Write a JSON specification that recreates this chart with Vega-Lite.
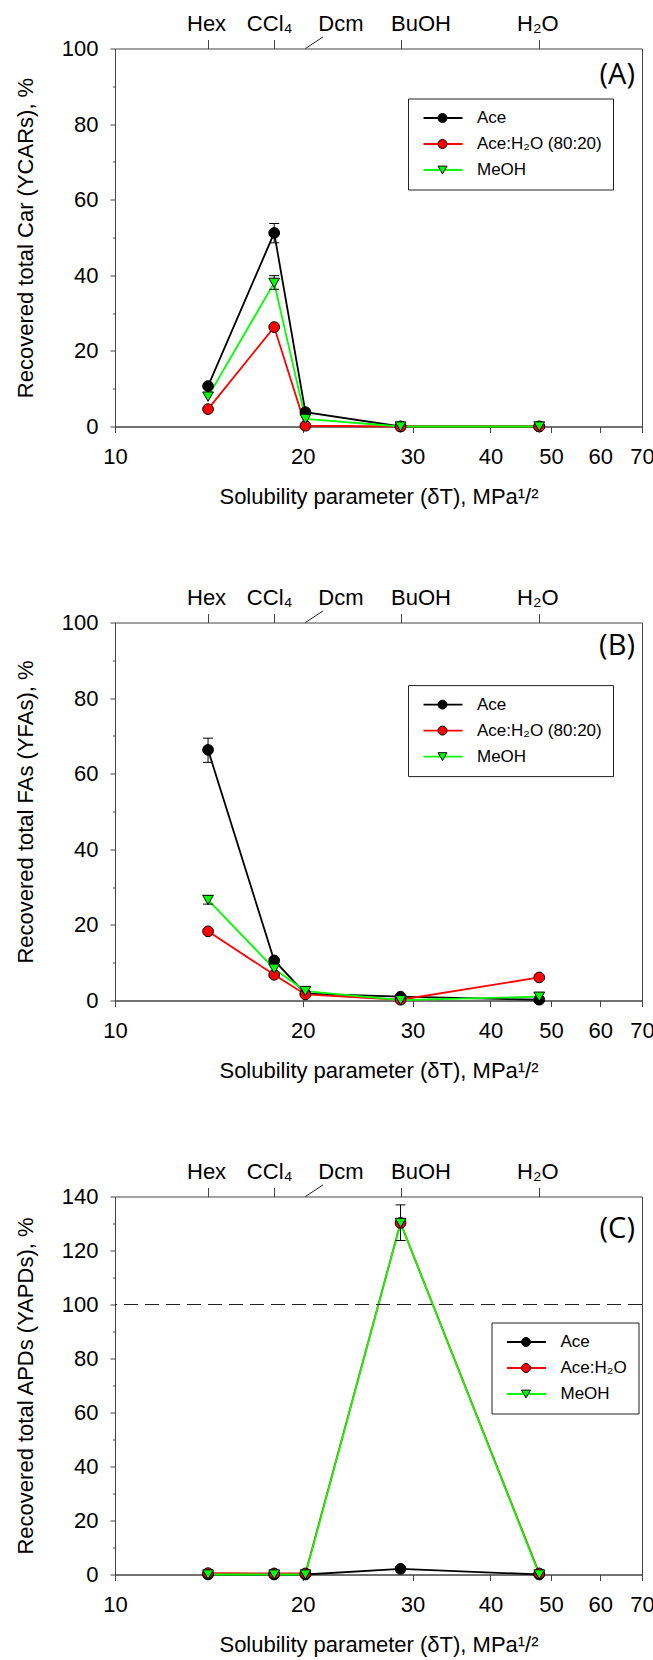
{
  "$schema": "https://vega.github.io/schema/vega-lite/v6.json",
  "padding": {"left": 13, "top": 11.5, "right": 0, "bottom": 0},
  "spacing": 77,
  "background": "white",
  "config": {
    "font": "Liberation Sans",
    "view": {"stroke": "#444", "strokeWidth": 1},
    "axis": {"domainColor": "#444", "tickColor": "#444", "labelColor": "black", "titleColor": "black", "grid": false, "labelFontWeight": "normal", "titleFontWeight": "normal", "labelFont": "Liberation Sans", "titleFont": "Liberation Sans", "labelFontSize": 22, "titleFontSize": 22},
    "legend": {"labelFont": "Liberation Sans", "labelFontSize": 17, "labelColor": "black"}
  },
  "datasets": {
    "A": [
      {"s": "Ace", "d": 14.1, "v": 10.7}, {"s": "Ace", "d": 18.0, "v": 51.2}, {"s": "Ace", "d": 20.2, "v": 3.8}, {"s": "Ace", "d": 28.7, "v": 0.0}, {"s": "Ace", "d": 47.9, "v": 0.0},
      {"s": "Ace:H₂O (80:20)", "d": 14.1, "v": 4.6}, {"s": "Ace:H₂O (80:20)", "d": 18.0, "v": 26.3}, {"s": "Ace:H₂O (80:20)", "d": 20.2, "v": 0.2}, {"s": "Ace:H₂O (80:20)", "d": 28.7, "v": 0.0}, {"s": "Ace:H₂O (80:20)", "d": 47.9, "v": 0.0},
      {"s": "MeOH", "d": 14.1, "v": 7.9}, {"s": "MeOH", "d": 18.0, "v": 38.0}, {"s": "MeOH", "d": 20.2, "v": 2.0}, {"s": "MeOH", "d": 28.7, "v": 0.0}, {"s": "MeOH", "d": 47.9, "v": 0.0}
    ],
    "Aerr": [
      {"s": "Ace", "d": 18.0, "lo": 48.6, "hi": 53.7},
      {"s": "MeOH", "d": 18.0, "lo": 36.3, "hi": 39.9}
    ],
    "B": [
      {"s": "Ace", "d": 14.1, "v": 66.3}, {"s": "Ace", "d": 18.0, "v": 10.6}, {"s": "Ace", "d": 20.2, "v": 1.8}, {"s": "Ace", "d": 28.7, "v": 1.0}, {"s": "Ace", "d": 47.9, "v": 0.2},
      {"s": "Ace:H₂O (80:20)", "d": 14.1, "v": 18.3}, {"s": "Ace:H₂O (80:20)", "d": 18.0, "v": 6.8}, {"s": "Ace:H₂O (80:20)", "d": 20.2, "v": 1.6}, {"s": "Ace:H₂O (80:20)", "d": 28.7, "v": 0.2}, {"s": "Ace:H₂O (80:20)", "d": 47.9, "v": 6.1},
      {"s": "MeOH", "d": 14.1, "v": 26.6}, {"s": "MeOH", "d": 18.0, "v": 8.4}, {"s": "MeOH", "d": 20.2, "v": 2.5}, {"s": "MeOH", "d": 28.7, "v": 0.1}, {"s": "MeOH", "d": 47.9, "v": 1.0}
    ],
    "Berr": [
      {"s": "Ace", "d": 14.1, "lo": 63.0, "hi": 69.4},
      {"s": "MeOH", "d": 14.1, "lo": 25.5, "hi": 27.7}
    ],
    "C": [
      {"s": "Ace", "d": 14.1, "v": 0.0}, {"s": "Ace", "d": 18.0, "v": 0.0}, {"s": "Ace", "d": 20.2, "v": 0.0}, {"s": "Ace", "d": 28.7, "v": 2.1}, {"s": "Ace", "d": 47.9, "v": 0.0},
      {"s": "Ace:H₂O", "d": 14.1, "v": 0.5}, {"s": "Ace:H₂O", "d": 18.0, "v": 0.4}, {"s": "Ace:H₂O", "d": 20.2, "v": 0.4}, {"s": "Ace:H₂O", "d": 28.7, "v": 130.2}, {"s": "Ace:H₂O", "d": 47.9, "v": 0.4},
      {"s": "MeOH", "d": 14.1, "v": 0.0}, {"s": "MeOH", "d": 18.0, "v": 0.0}, {"s": "MeOH", "d": 20.2, "v": 0.0}, {"s": "MeOH", "d": 28.7, "v": 130.2}, {"s": "MeOH", "d": 47.9, "v": 0.0}
    ],
    "Cerr": [
      {"s": "MeOH", "d": 28.7, "lo": 123.7, "hi": 136.9}
    ]
  },
  "resolve": {
    "scale": {"stroke": "independent", "fill": "independent", "shape": "independent"},
    "legend": {"stroke": "independent", "fill": "independent", "shape": "independent"}
  },
  "vconcat": [
    {
      "width": 527, "height": 378,
      "resolve": {"axis": {"x": "independent", "y": "independent"}},
      "layer": [
        {
          "data": {"name": "A"},
          "mark": {"type": "line", "strokeWidth": 1.8},
          "encoding": {
            "x": {"field": "d", "type": "quantitative", "scale": {"type": "log", "domain": [10, 70], "nice": false},
              "axis": {"orient": "bottom", "values": [10, 20, 30, 40, 50, 60, 70], "format": "d", "tickSize": 6, "labelPadding": 14, "labelFlush": false, "labelOverlap": false, "labelBound": false, "title": "Solubility parameter (δT), MPa¹/²", "titlePadding": 19}},
            "y": {"field": "v", "type": "quantitative", "scale": {"domain": [0, 100], "nice": false},
              "axis": {"orient": "left", "values": [0, 10, 20, 30, 40, 50, 60, 70, 80, 90, 100], "labelExpr": "datum.value % 20 == 0 ? datum.label : ''", "tickSize": 5, "tickDash": {"condition": {"test": "datum.value % 20 != 0", "value": [2.5, 10]}, "value": [10, 0]}, "labelPadding": 12, "labelOverlap": false, "labelFlush": false, "title": "Recovered total Car (YCARs), %", "titlePadding": 24}},
            "stroke": {"field": "s", "type": "nominal", "scale": {"range": ["#000000", "#FF0000", "#00FF00"]},
              "legend": {"orient": "none", "legendX": 293, "legendY": 50, "title": null, "symbolType": "M-1,0H8.75", "symbolSize": 64, "symbolStrokeWidth": 1.8, "padding": 11, "strokeColor": "#222", "rowPadding": 8, "labelOffset": 41}}
          }
        },
        {
          "data": {"name": "Aerr"},
          "mark": {"type": "rule", "color": "black", "strokeWidth": 1},
          "encoding": {
            "x": {"field": "d", "type": "quantitative", "axis": null},
            "y": {"field": "lo", "type": "quantitative", "axis": null},
            "y2": {"field": "hi"}
          }
        },
        {
          "data": {"name": "Aerr"},
          "mark": {"type": "tick", "orient": "horizontal", "color": "black", "size": 10, "thickness": 1, "opacity": 1},
          "encoding": {
            "x": {"field": "d", "type": "quantitative", "axis": null},
            "y": {"field": "lo", "type": "quantitative", "axis": null}
          }
        },
        {
          "data": {"name": "Aerr"},
          "mark": {"type": "tick", "orient": "horizontal", "color": "black", "size": 10, "thickness": 1, "opacity": 1},
          "encoding": {
            "x": {"field": "d", "type": "quantitative", "axis": null},
            "y": {"field": "hi", "type": "quantitative", "axis": null}
          }
        },
        {
          "data": {"name": "A"},
          "mark": {"type": "point", "filled": true, "stroke": "black", "strokeWidth": 1, "opacity": 1, "size": 115},
          "encoding": {
            "x": {"field": "d", "type": "quantitative", "axis": null},
            "y": {"field": "v", "type": "quantitative", "axis": null},
            "fill": {"field": "s", "type": "nominal", "scale": {"domain": ["Ace", "Ace:H₂O (80:20)", "MeOH"], "range": ["#000000", "#FF0000", "#00FF00"]},
              "legend": {"orient": "none", "legendX": 308, "legendY": 50, "title": null, "symbolSize": 80, "symbolStrokeColor": "black", "symbolStrokeWidth": 1, "symbolOpacity": 1, "labelExpr": "''", "labelOpacity": 0, "padding": 11, "rowPadding": 8, "labelOffset": 10}},
            "shape": {"field": "s", "type": "nominal", "scale": {"domain": ["Ace", "Ace:H₂O (80:20)", "MeOH"], "range": ["circle", "circle", "triangle-down"]}}
          }
        },
        {
          "data": {"values": [{}]},
          "mark": {"type": "rule", "color": "#222", "strokeWidth": 1, "clip": false},
          "encoding": {
            "x": {"datum": 20.2, "type": "quantitative",
              "axis": {"orient": "top", "values": [14.1, 18.0, 20.2, 28.7, 47.9], "labelExpr": "datum.value < 16 ? 'Hex' : datum.value < 19 ? 'CCl₄' : datum.value < 24 ? 'Dcm' : datum.value < 35 ? 'BuOH' : 'H₂O'", "tickSize": 9, "tickColor": {"condition": {"test": "datum.value > 19 && datum.value < 24", "value": "transparent"}, "value": "#444"}, "labelOffset": {"condition": [{"test": "datum.value > 19 && datum.value < 24", "value": 35}, {"test": "datum.value > 24 && datum.value < 35", "value": 20}, {"test": "datum.value > 16 && datum.value < 19", "value": -5}], "value": -2}, "labelPadding": 4, "labelFlush": false, "labelOverlap": false, "labelBound": false, "domain": false, "title": null}},
            "x2": {"datum": 21.56},
            "y": {"datum": 100, "type": "quantitative", "axis": null},
            "y2": {"datum": 103.07}
          }
        },
        {
          "data": {"values": [{}]},
          "mark": {"type": "text", "text": "(A)", "font": "Open Sans", "fontSize": 29, "align": "right", "baseline": "middle", "color": "black"},
          "encoding": {
            "x": {"datum": 68.2, "type": "quantitative", "axis": null},
            "y": {"datum": 93, "type": "quantitative", "axis": null}
          }
        }
      ]
    },
    {
      "width": 527, "height": 378,
      "resolve": {"axis": {"x": "independent", "y": "independent"}},
      "layer": [
        {
          "data": {"name": "B"},
          "mark": {"type": "line", "strokeWidth": 1.8},
          "encoding": {
            "x": {"field": "d", "type": "quantitative", "scale": {"type": "log", "domain": [10, 70], "nice": false},
              "axis": {"orient": "bottom", "values": [10, 20, 30, 40, 50, 60, 70], "format": "d", "tickSize": 6, "labelPadding": 14, "labelFlush": false, "labelOverlap": false, "labelBound": false, "title": "Solubility parameter (δT), MPa¹/²", "titlePadding": 19}},
            "y": {"field": "v", "type": "quantitative", "scale": {"domain": [0, 100], "nice": false},
              "axis": {"orient": "left", "values": [0, 10, 20, 30, 40, 50, 60, 70, 80, 90, 100], "labelExpr": "datum.value % 20 == 0 ? datum.label : ''", "tickSize": 5, "tickDash": {"condition": {"test": "datum.value % 20 != 0", "value": [2.5, 10]}, "value": [10, 0]}, "labelPadding": 12, "labelOverlap": false, "labelFlush": false, "title": "Recovered total FAs (YFAs), %", "titlePadding": 24}},
            "stroke": {"field": "s", "type": "nominal", "scale": {"range": ["#000000", "#FF0000", "#00FF00"]},
              "legend": {"orient": "none", "legendX": 293, "legendY": 62.6, "title": null, "symbolType": "M-1,0H8.75", "symbolSize": 64, "symbolStrokeWidth": 1.8, "padding": 11, "strokeColor": "#222", "rowPadding": 8, "labelOffset": 41}}
          }
        },
        {
          "data": {"name": "Berr"},
          "mark": {"type": "rule", "color": "black", "strokeWidth": 1},
          "encoding": {
            "x": {"field": "d", "type": "quantitative", "axis": null},
            "y": {"field": "lo", "type": "quantitative", "axis": null},
            "y2": {"field": "hi"}
          }
        },
        {
          "data": {"name": "Berr"},
          "mark": {"type": "tick", "orient": "horizontal", "color": "black", "size": 10, "thickness": 1, "opacity": 1},
          "encoding": {
            "x": {"field": "d", "type": "quantitative", "axis": null},
            "y": {"field": "lo", "type": "quantitative", "axis": null}
          }
        },
        {
          "data": {"name": "Berr"},
          "mark": {"type": "tick", "orient": "horizontal", "color": "black", "size": 10, "thickness": 1, "opacity": 1},
          "encoding": {
            "x": {"field": "d", "type": "quantitative", "axis": null},
            "y": {"field": "hi", "type": "quantitative", "axis": null}
          }
        },
        {
          "data": {"name": "B"},
          "mark": {"type": "point", "filled": true, "stroke": "black", "strokeWidth": 1, "opacity": 1, "size": 115},
          "encoding": {
            "x": {"field": "d", "type": "quantitative", "axis": null},
            "y": {"field": "v", "type": "quantitative", "axis": null},
            "fill": {"field": "s", "type": "nominal", "scale": {"domain": ["Ace", "Ace:H₂O (80:20)", "MeOH"], "range": ["#000000", "#FF0000", "#00FF00"]},
              "legend": {"orient": "none", "legendX": 308, "legendY": 62.6, "title": null, "symbolSize": 80, "symbolStrokeColor": "black", "symbolStrokeWidth": 1, "symbolOpacity": 1, "labelExpr": "''", "labelOpacity": 0, "padding": 11, "rowPadding": 8, "labelOffset": 10}},
            "shape": {"field": "s", "type": "nominal", "scale": {"domain": ["Ace", "Ace:H₂O (80:20)", "MeOH"], "range": ["circle", "circle", "triangle-down"]}}
          }
        },
        {
          "data": {"values": [{}]},
          "mark": {"type": "rule", "color": "#222", "strokeWidth": 1, "clip": false},
          "encoding": {
            "x": {"datum": 20.2, "type": "quantitative",
              "axis": {"orient": "top", "values": [14.1, 18.0, 20.2, 28.7, 47.9], "labelExpr": "datum.value < 16 ? 'Hex' : datum.value < 19 ? 'CCl₄' : datum.value < 24 ? 'Dcm' : datum.value < 35 ? 'BuOH' : 'H₂O'", "tickSize": 9, "tickColor": {"condition": {"test": "datum.value > 19 && datum.value < 24", "value": "transparent"}, "value": "#444"}, "labelOffset": {"condition": [{"test": "datum.value > 19 && datum.value < 24", "value": 35}, {"test": "datum.value > 24 && datum.value < 35", "value": 20}, {"test": "datum.value > 16 && datum.value < 19", "value": -5}], "value": -2}, "labelPadding": 4, "labelFlush": false, "labelOverlap": false, "labelBound": false, "domain": false, "title": null}},
            "x2": {"datum": 21.56},
            "y": {"datum": 100, "type": "quantitative", "axis": null},
            "y2": {"datum": 103.07}
          }
        },
        {
          "data": {"values": [{}]},
          "mark": {"type": "text", "text": "(B)", "font": "Open Sans", "fontSize": 29, "align": "right", "baseline": "middle", "color": "black"},
          "encoding": {
            "x": {"datum": 68.2, "type": "quantitative", "axis": null},
            "y": {"datum": 93.8, "type": "quantitative", "axis": null}
          }
        }
      ]
    },
    {
      "width": 527, "height": 378,
      "resolve": {"axis": {"x": "independent", "y": "independent"}},
      "layer": [
        {
          "data": {"name": "C"},
          "mark": {"type": "line", "strokeWidth": 1.8},
          "encoding": {
            "x": {"field": "d", "type": "quantitative", "scale": {"type": "log", "domain": [10, 70], "nice": false},
              "axis": {"orient": "bottom", "values": [10, 20, 30, 40, 50, 60, 70], "format": "d", "tickSize": 6, "labelPadding": 14, "labelFlush": false, "labelOverlap": false, "labelBound": false, "title": "Solubility parameter (δT), MPa¹/²", "titlePadding": 19}},
            "y": {"field": "v", "type": "quantitative", "scale": {"domain": [0, 140], "nice": false},
              "axis": {"orient": "left", "values": [0, 10, 20, 30, 40, 50, 60, 70, 80, 90, 100, 110, 120, 130, 140], "labelExpr": "datum.value % 20 == 0 ? datum.label : ''", "tickSize": 5, "tickDash": {"condition": {"test": "datum.value % 20 != 0", "value": [2.5, 10]}, "value": [10, 0]}, "labelPadding": 12, "labelOverlap": false, "labelFlush": false, "title": "Recovered total APDs (YAPDs), %", "titlePadding": 24}},
            "stroke": {"field": "s", "type": "nominal", "scale": {"range": ["#000000", "#FF0000", "#00FF00"]},
              "legend": {"orient": "none", "legendX": 376.5, "legendY": 126, "title": null, "symbolType": "M-1,0H8.75", "symbolSize": 64, "symbolStrokeWidth": 1.8, "padding": 11, "strokeColor": "#222", "rowPadding": 8, "labelOffset": 41}}
          }
        },
        {
          "data": {"values": [{}]},
          "mark": {"type": "rule", "color": "#222", "strokeWidth": 1, "strokeDash": [14, 7]},
          "encoding": {
            "y": {"datum": 100, "type": "quantitative", "axis": null}
          }
        },
        {
          "data": {"name": "Cerr"},
          "mark": {"type": "rule", "color": "black", "strokeWidth": 1},
          "encoding": {
            "x": {"field": "d", "type": "quantitative", "axis": null},
            "y": {"field": "lo", "type": "quantitative", "axis": null},
            "y2": {"field": "hi"}
          }
        },
        {
          "data": {"name": "Cerr"},
          "mark": {"type": "tick", "orient": "horizontal", "color": "black", "size": 10, "thickness": 1, "opacity": 1},
          "encoding": {
            "x": {"field": "d", "type": "quantitative", "axis": null},
            "y": {"field": "lo", "type": "quantitative", "axis": null}
          }
        },
        {
          "data": {"name": "Cerr"},
          "mark": {"type": "tick", "orient": "horizontal", "color": "black", "size": 10, "thickness": 1, "opacity": 1},
          "encoding": {
            "x": {"field": "d", "type": "quantitative", "axis": null},
            "y": {"field": "hi", "type": "quantitative", "axis": null}
          }
        },
        {
          "data": {"name": "C"},
          "mark": {"type": "point", "filled": true, "stroke": "black", "strokeWidth": 1, "opacity": 1, "size": 115},
          "encoding": {
            "x": {"field": "d", "type": "quantitative", "axis": null},
            "y": {"field": "v", "type": "quantitative", "axis": null},
            "fill": {"field": "s", "type": "nominal", "scale": {"domain": ["Ace", "Ace:H₂O", "MeOH"], "range": ["#000000", "#FF0000", "#00FF00"]},
              "legend": {"orient": "none", "legendX": 391.5, "legendY": 126, "title": null, "symbolSize": 80, "symbolStrokeColor": "black", "symbolStrokeWidth": 1, "symbolOpacity": 1, "labelExpr": "''", "labelOpacity": 0, "padding": 11, "rowPadding": 8, "labelOffset": 10}},
            "shape": {"field": "s", "type": "nominal", "scale": {"domain": ["Ace", "Ace:H₂O", "MeOH"], "range": ["circle", "circle", "triangle-down"]}}
          }
        },
        {
          "data": {"values": [{}]},
          "mark": {"type": "rule", "color": "#222", "strokeWidth": 1, "clip": false},
          "encoding": {
            "x": {"datum": 20.2, "type": "quantitative",
              "axis": {"orient": "top", "values": [14.1, 18.0, 20.2, 28.7, 47.9], "labelExpr": "datum.value < 16 ? 'Hex' : datum.value < 19 ? 'CCl₄' : datum.value < 24 ? 'Dcm' : datum.value < 35 ? 'BuOH' : 'H₂O'", "tickSize": 9, "tickColor": {"condition": {"test": "datum.value > 19 && datum.value < 24", "value": "transparent"}, "value": "#444"}, "labelOffset": {"condition": [{"test": "datum.value > 19 && datum.value < 24", "value": 35}, {"test": "datum.value > 24 && datum.value < 35", "value": 20}, {"test": "datum.value > 16 && datum.value < 19", "value": -5}], "value": -2}, "labelPadding": 4, "labelFlush": false, "labelOverlap": false, "labelBound": false, "domain": false, "title": null}},
            "x2": {"datum": 21.56},
            "y": {"datum": 140, "type": "quantitative", "axis": null},
            "y2": {"datum": 144.3}
          }
        },
        {
          "data": {"values": [{}]},
          "mark": {"type": "text", "text": "(C)", "font": "Open Sans", "fontSize": 29, "align": "right", "baseline": "middle", "color": "black"},
          "encoding": {
            "x": {"datum": 68.2, "type": "quantitative", "axis": null},
            "y": {"datum": 128, "type": "quantitative", "axis": null}
          }
        }
      ]
    }
  ]
}
